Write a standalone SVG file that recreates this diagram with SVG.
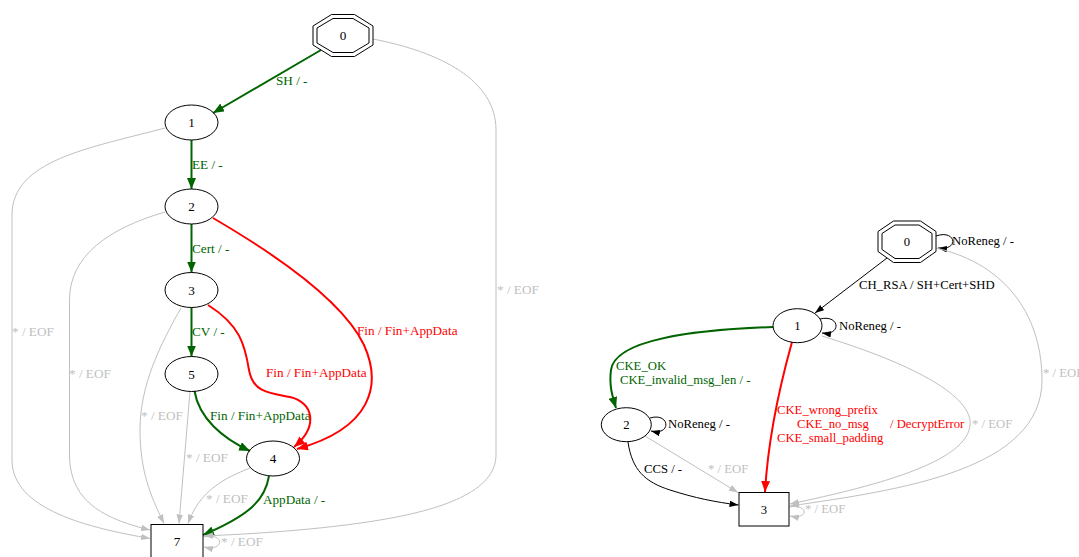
<svg xmlns="http://www.w3.org/2000/svg" width="1079" height="557" viewBox="0 0 1079 557">
<style>
text{font-family:"Liberation Serif","Times New Roman",serif;font-size:13.2px}
.R text{font-size:12.7px}
.nd ellipse,.nd rect,.nd polygon{fill:none;stroke:#000;stroke-width:1}
.nd text{text-anchor:middle;fill:#000}
.e path{fill:none}
.g path{stroke:#006400;stroke-width:2}
.r path{stroke:#ff0000;stroke-width:2}
.s path{stroke:#c0c0c0;stroke-width:1}
.k path{stroke:#000;stroke-width:1}
.g text{fill:#006400}
.r text{fill:#ff0000}
.s text{fill:#c0c0c0}
.k text{fill:#000}
.g path{marker-end:url(#ag)}
.r path{marker-end:url(#ar)}
.s path{marker-end:url(#as)}
.k path{marker-end:url(#ak)}
</style>
<defs>
<marker id="ag" markerUnits="userSpaceOnUse" markerWidth="12" markerHeight="9" refX="11" refY="4.5" orient="auto"><path d="M0,0 L11,4.5 L0,9 z" fill="#006400"/></marker>
<marker id="ar" markerUnits="userSpaceOnUse" markerWidth="12" markerHeight="9" refX="11" refY="4.5" orient="auto"><path d="M0,0 L11,4.5 L0,9 z" fill="#ff0000"/></marker>
<marker id="as" markerUnits="userSpaceOnUse" markerWidth="10" markerHeight="7" refX="9" refY="3.25" orient="auto"><path d="M0,0 L9,3.25 L0,6.5 z" fill="#c0c0c0"/></marker>
<marker id="ak" markerUnits="userSpaceOnUse" markerWidth="10" markerHeight="7" refX="9" refY="3.25" orient="auto"><path d="M0,0 L9,3.25 L0,6.5 z" fill="#000"/></marker>
</defs>
<rect width="1079" height="557" fill="#fff"/>

<g id="left">
<g id="connectors-left">
<g class="e g"><path d="M321,50 L213,113"/><text x="276" y="85">SH / -</text></g>
<g class="e g"><path d="M191.5,140 L191.5,189"/><text x="192" y="169">EE / -</text></g>
<g class="e g"><path d="M191.5,224 L191.5,272.5"/><text x="192" y="253">Cert / -</text></g>
<g class="e g"><path d="M191.5,307.5 L191.5,356.5"/><text x="192" y="336">CV / -</text></g>
<g class="e g"><path d="M194.5,391 C199,418 222,438 250,451"/><text x="210" y="420">Fin / Fin+AppData</text></g>
<g class="e r"><path d="M208,305 C240,325 245,345 249,370 C253,392 268,393 290,397 C312,402 320,425 294,447"/><text x="266" y="377">Fin / Fin+AppData</text></g>
<g class="e r"><path d="M213,218 C285,260 345,305 364,345 C382,385 372,428 297,449"/><text x="357" y="335">Fin / Fin+AppData</text></g>
<g class="e g"><path d="M269,476 C265,500 250,515 203,535"/><text x="263" y="504">AppData / -</text></g>
<g class="e s"><path d="M373,39 C440,52 496,80 496,130 L496,455 C496,492 440,510 380,520 C320,530 250,534 204,536"/><text x="497" y="294">* / EOF</text></g>
<g class="e s"><path d="M165,128 C90,148 12,160 12,215 L12,460 C12,510 90,528 150,538.5"/><text x="12" y="336">* / EOF</text></g>
<g class="e s"><path d="M165,212 C110,228 69.5,255 69.5,300 L69.5,455 C69.5,505 110,520 150,530"/><text x="69" y="378">* / EOF</text></g>
<g class="e s"><path d="M181,308 C160,345 140,385 140,430 C140,470 150,495 164,523.5"/><text x="141" y="420">* / EOF</text></g>
<g class="e s"><path d="M190,391.5 L179,523.5"/><text x="186" y="462">* / EOF</text></g>
<g class="e s"><path d="M250,468 C225,478 200,490 188,523.5"/><text x="206" y="503">* / EOF</text></g>
<g class="e s"><path d="M203,537 C225,532 225,552 204,547"/><text x="221" y="546">* / EOF</text></g>
</g>
<g id="L0" class="nd"><polygon points="331.5,14.5 354.5,14.5 373,26 373,45 354.5,56.5 331.5,56.5 313,45 313,26"/><polygon points="333,18.5 353,18.5 369,28 369,43 353,52.5 333,52.5 317,43 317,28"/><text x="343" y="40">0</text></g>
<g id="L1" class="nd"><ellipse cx="191.5" cy="122.5" rx="26.5" ry="17.5"/><text x="191.5" y="127">1</text></g>
<g id="L2" class="nd"><ellipse cx="191.5" cy="206.5" rx="26.5" ry="17.5"/><text x="191.5" y="211">2</text></g>
<g id="L3" class="nd"><ellipse cx="191.5" cy="290" rx="26.5" ry="17.5"/><text x="191.5" y="294.5">3</text></g>
<g id="L5" class="nd"><ellipse cx="191.5" cy="374" rx="26.5" ry="17.5"/><text x="191.5" y="378.5">5</text></g>
<g id="L4" class="nd"><ellipse cx="273" cy="458.5" rx="26.5" ry="17.5"/><text x="273" y="463">4</text></g>
<g id="L7" class="nd"><rect x="151" y="524.5" width="52" height="36"/><text x="177" y="546">7</text></g>
</g>

<g id="right" class="R">
<g id="connectors-right">
<g class="e k"><path d="M936,236 C956,229 960,251 938,248"/><text x="952" y="245">NoReneg / -</text></g>
<g class="e k"><path d="M887,258 L815,313"/><text x="859" y="289">CH_RSA / SH+Cert+SHD</text></g>
<g class="e k"><path d="M820,319 C840,314 842,336 822,333"/><text x="839" y="330">NoReneg / -</text></g>
<g class="e g"><path d="M773,327 C690,330 615,340 611,370 C609,385 612,395 616,408"/><text x="616" y="370">CKE_OK</text><text x="620" y="384">CKE_invalid_msg_len / -</text></g>
<g class="e r"><path d="M792,342 C780,385 768,440 765,492"/><text x="777" y="414">CKE_wrong_prefix</text><text x="797" y="428">CKE_no_msg</text><text x="890" y="428">/ DecryptError</text><text x="777" y="442">CKE_small_padding</text></g>
<g class="e k"><path d="M650,418 C670,412 672,436 651,431"/><text x="668" y="428">NoReneg / -</text></g>
<g class="e k"><path d="M628,442 C632,470 645,482 670,490 C695,498 715,502 738.5,505"/><text x="644" y="473">CCS / -</text></g>
<g class="e s"><path d="M645,436 L738,492.5"/><text x="708" y="473">* / EOF</text></g>
<g class="e s"><path d="M822,336 C900,360 965,390 970,420 C975,460 880,485 790,504"/><text x="972" y="428">* / EOF</text></g>
<g class="e s"><path d="M936,248 C1010,265 1042,320 1042,380 C1042,470 900,490 790,506"/><text x="1043" y="377">* / EOF</text></g>
<g class="e s"><path d="M789,507 C808,503 810,520 790,516"/><text x="805" y="513">* / EOF</text></g>
</g>
<g id="R0" class="nd"><polygon points="893.5,221 920.5,221 936,231.5 936,251.5 920.5,262.5 893.5,262.5 878,251.5 878,231.5"/><polygon points="895,225 919,225 932,233.5 932,249.5 919,258.5 895,258.5 882,249.5 882,233.5"/><text x="907" y="246">0</text></g>
<g id="R1" class="nd"><ellipse cx="797.5" cy="325.7" rx="24.5" ry="17"/><text x="797.5" y="330">1</text></g>
<g id="R2" class="nd"><ellipse cx="626.3" cy="424.7" rx="25" ry="17"/><text x="626.3" y="429">2</text></g>
<g id="R3" class="nd"><rect x="739" y="492.5" width="50" height="33.5"/><text x="764" y="513.5">3</text></g>
</g>
</svg>
